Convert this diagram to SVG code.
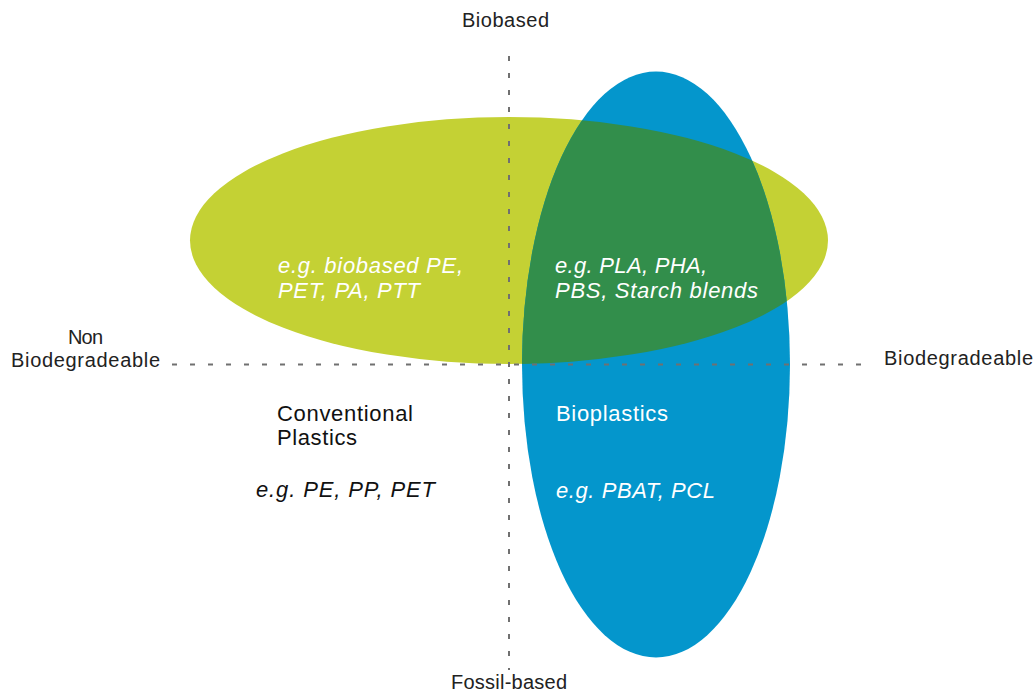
<svg xmlns="http://www.w3.org/2000/svg" width="1036" height="692" viewBox="0 0 1036 692">
  <style>
    .axis { font-family: "Liberation Sans", Arial, sans-serif; font-size: 20px; fill: #222222; }
    .lbl { font-family: "Liberation Sans", Arial, sans-serif; font-size: 22px; }
    .it { font-style: italic; }
    .w { fill: #ffffff; }
    .k { fill: #111111; }
    .dash { stroke: #707070; stroke-width: 2; fill: none; }
  </style>
  <defs>
    <clipPath id="blueClip">
      <ellipse cx="656" cy="364.5" rx="134" ry="293"/>
    </clipPath>
  </defs>
  <rect width="1036" height="692" fill="#ffffff"/>

  <g id="biobased-ellipse">
    <ellipse cx="509" cy="240.5" rx="319" ry="123.5" fill="#c4d134"/>
  </g>
  <g id="biodegradable-ellipse">
    <ellipse cx="656" cy="364.5" rx="134" ry="293" fill="#0496cc"/>
  </g>
  <g id="overlap">
    <ellipse cx="509" cy="240.5" rx="319" ry="123.5" fill="#328e4b" clip-path="url(#blueClip)"/>
  </g>

  <g id="axes">
    <line class="dash" x1="509" y1="56" x2="509" y2="670" stroke-dasharray="5 12"/>
    <line class="dash" x1="172" y1="364.5" x2="862" y2="364.5" stroke-dasharray="5 13"/>
  </g>

  <g id="axis-labels">
    <text class="axis" x="462" y="27" textLength="87" lengthAdjust="spacing">Biobased</text>
    <text class="axis" x="451" y="689" textLength="116" lengthAdjust="spacing">Fossil-based</text>
    <text class="axis" x="68" y="344" textLength="35" lengthAdjust="spacing">Non</text>
    <text class="axis" x="11" y="367" textLength="149" lengthAdjust="spacing">Biodegradeable</text>
    <text class="axis" x="884" y="365" textLength="149" lengthAdjust="spacing">Biodegradeable</text>
  </g>

  <g id="biobased-nonbio-text">
    <text class="lbl it w" x="278" y="273" textLength="185" lengthAdjust="spacing">e.g. biobased PE,</text>
    <text class="lbl it w" x="278" y="298" textLength="142" lengthAdjust="spacing">PET, PA, PTT</text>
  </g>
  <g id="biobased-bio-text">
    <text class="lbl it w" x="555" y="273" textLength="152" lengthAdjust="spacing">e.g. PLA, PHA,</text>
    <text class="lbl it w" x="555" y="298" textLength="203" lengthAdjust="spacing">PBS, Starch blends</text>
  </g>
  <g id="conventional">
    <text class="lbl k" x="277" y="421" textLength="136" lengthAdjust="spacing">Conventional</text>
    <text class="lbl k" x="277" y="445" textLength="80" lengthAdjust="spacing">Plastics</text>
    <text class="lbl it k" x="256" y="497" textLength="179" lengthAdjust="spacing">e.g. PE, PP, PET</text>
  </g>
  <g id="bioplastics">
    <text class="lbl w" x="556" y="421" textLength="112" lengthAdjust="spacing">Bioplastics</text>
    <text class="lbl it w" x="556" y="498" textLength="159" lengthAdjust="spacing">e.g. PBAT, PCL</text>
  </g>
</svg>
